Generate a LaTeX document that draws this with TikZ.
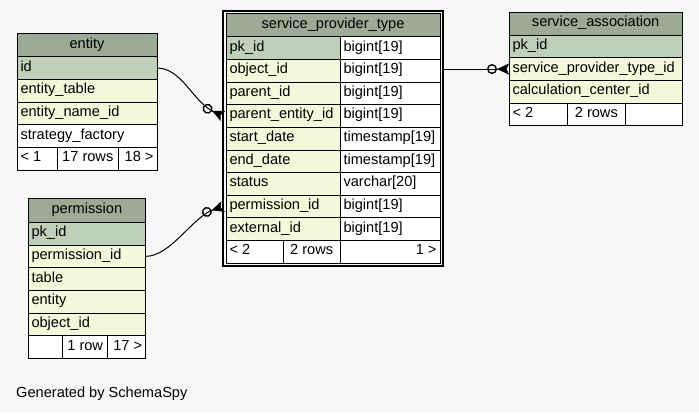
\documentclass[tikz,border=0pt]{standalone}
\usepackage{fontspec}
\setmainfont{Liberation Sans}
\usetikzlibrary{arrows.meta}
\definecolor{bg}{HTML}{F7F7F7}
\definecolor{hdr}{HTML}{9BAB96}
\definecolor{pkc}{HTML}{BED1B8}
\definecolor{idx}{HTML}{F4F7DA}
\tikzset{
  cellbox/.style={draw=black, line width=0.9pt, inner xsep=3.5pt, inner ysep=0pt,
    outer sep=0pt, anchor=north west, text height=10pt, text depth=4pt,
    font=\fontsize{14.6}{16}\selectfont},
  fk/.style={draw=black, line width=1pt,
    -{Circle[open,length=10pt,width=10pt,line width=1.4pt,sep=0pt] Stealth[reversed,length=12pt,width=11pt,inset=2.5pt]}},
  focusframe/.style={draw=black, line width=2.5pt, inner sep=0pt, outer sep=0pt, anchor=north west},
  gentext/.style={anchor=base west, inner sep=0pt, font=\fontsize{14.6}{16}\selectfont}
}
\newcommand\tcell[8]{\node[cellbox, fill=#6, minimum width=#4pt, minimum height=#5pt] (#1) at (#2,#3) {\makebox[\dimexpr#4pt-7pt\relax][#7]{#8}};}
\begin{document}
\begin{tikzpicture}[x=1pt,y=-1pt]
\path[fill=bg] (0,0) rectangle (699,413);
\useasboundingbox (0,0) rectangle (699,413);

% entity
\tcell{entity-h}{17}{33.3}{140}{23.4}{hdr}{c}{entity}
\tcell{entity-id}{17}{56.7}{140}{22.7}{pkc}{l}{id}
\tcell{entity-table}{17}{79.4}{140}{22.7}{idx}{l}{entity\_table}
\tcell{entity-nameid}{17}{102.1}{140}{22.7}{idx}{l}{entity\_name\_id}
\tcell{entity-sf}{17}{124.8}{140}{22.7}{white}{l}{strategy\_factory}
\tcell{entity-f1}{17}{147.5}{40.3}{22.7}{white}{l}{< 1}
\tcell{entity-f2}{57.3}{147.5}{61}{22.7}{white}{c}{17 rows}
\tcell{entity-f3}{118.3}{147.5}{38.7}{22.7}{white}{r}{18 >}

% permission
\tcell{perm-h}{28}{198.3}{117.7}{24}{hdr}{c}{permission}
\tcell{perm-pk}{28}{222.3}{117.7}{22.7}{pkc}{l}{pk\_id}
\tcell{perm-pid}{28}{245}{117.7}{22.7}{idx}{l}{permission\_id}
\tcell{perm-table}{28}{267.7}{117.7}{22.7}{idx}{l}{table}
\tcell{perm-entity}{28}{290.4}{117.7}{22.7}{idx}{l}{entity}
\tcell{perm-obj}{28}{313.1}{117.7}{22.7}{idx}{l}{object\_id}
\tcell{perm-f1}{28}{335.8}{34.7}{22.7}{white}{l}{}
\tcell{perm-f2}{62.7}{335.8}{45}{22.7}{white}{c}{1 row}
\tcell{perm-f3}{107.7}{335.8}{38}{22.7}{white}{r}{17 >}

% service_provider_type (focus table)
\node[focusframe, minimum width=220pt, minimum height=255pt] (spt) at (223,10.8) {};
\tcell{spt-h}{226}{13.5}{214}{23.2}{hdr}{c}{service\_provider\_type}
\tcell{spt-pk}{226}{36.7}{114}{22.65}{pkc}{l}{pk\_id}
\tcell{spt-pk-t}{340}{36.7}{100}{22.65}{white}{l}{bigint[19]}
\tcell{spt-obj}{226}{59.35}{114}{22.65}{idx}{l}{object\_id}
\tcell{spt-obj-t}{340}{59.35}{100}{22.65}{white}{l}{bigint[19]}
\tcell{spt-par}{226}{82}{114}{22.65}{idx}{l}{parent\_id}
\tcell{spt-par-t}{340}{82}{100}{22.65}{white}{l}{bigint[19]}
\tcell{spt-pe}{226}{104.65}{114}{22.65}{idx}{l}{parent\_entity\_id}
\tcell{spt-pe-t}{340}{104.65}{100}{22.65}{white}{l}{bigint[19]}
\tcell{spt-sd}{226}{127.3}{114}{22.65}{idx}{l}{start\_date}
\tcell{spt-sd-t}{340}{127.3}{100}{22.65}{white}{l}{timestamp[19]}
\tcell{spt-ed}{226}{149.95}{114}{22.65}{idx}{l}{end\_date}
\tcell{spt-ed-t}{340}{149.95}{100}{22.65}{white}{l}{timestamp[19]}
\tcell{spt-st}{226}{172.6}{114}{22.65}{idx}{l}{status}
\tcell{spt-st-t}{340}{172.6}{100}{22.65}{white}{l}{varchar[20]}
\tcell{spt-pid}{226}{195.25}{114}{22.65}{idx}{l}{permission\_id}
\tcell{spt-pid-t}{340}{195.25}{100}{22.65}{white}{l}{bigint[19]}
\tcell{spt-ext}{226}{217.9}{114}{22.65}{idx}{l}{external\_id}
\tcell{spt-ext-t}{340}{217.9}{100}{22.65}{white}{l}{bigint[19]}
\tcell{spt-f1}{226}{240.55}{57.3}{22.65}{white}{l}{< 2}
\tcell{spt-f2}{283.3}{240.55}{56.7}{22.65}{white}{c}{2 rows}
\tcell{spt-f3}{340}{240.55}{100}{22.65}{white}{r}{1 >}

% service_association
\tcell{sa-h}{509}{12.3}{173.3}{22.7}{hdr}{c}{service\_association}
\tcell{sa-pk}{509}{35}{173.3}{22.7}{pkc}{l}{pk\_id}
\tcell{sa-sptid}{509}{57.7}{173.3}{22.7}{idx}{l}{service\_provider\_type\_id}
\tcell{sa-calc}{509}{80.4}{173.3}{22.7}{idx}{l}{calculation\_center\_id}
\tcell{sa-f1}{509}{103.1}{58.7}{22.7}{white}{l}{< 2}
\tcell{sa-f2}{567.7}{103.1}{57.3}{22.7}{white}{c}{2 rows}
\tcell{sa-f3}{625}{103.1}{57.3}{22.7}{white}{r}{}

% ports
\coordinate (pe-port) at (spt.west |- spt-pe.west);
\coordinate (pid-port) at (spt.west |- spt-pid.west);
\coordinate (obj-port) at (spt.east |- sa-sptid.west);

% connectors
\draw[fk] (entity-id.east) .. controls +(25,0) and +(-30,-14) .. (pe-port);
\draw[fk] (perm-pid.east) .. controls +(25,0) and +(-30,10) .. (pid-port);
\draw[fk] (obj-port) -- (sa-sptid.west);

\node[gentext] (gen) at (16,397) {Generated by SchemaSpy};
\end{tikzpicture}
\end{document}
